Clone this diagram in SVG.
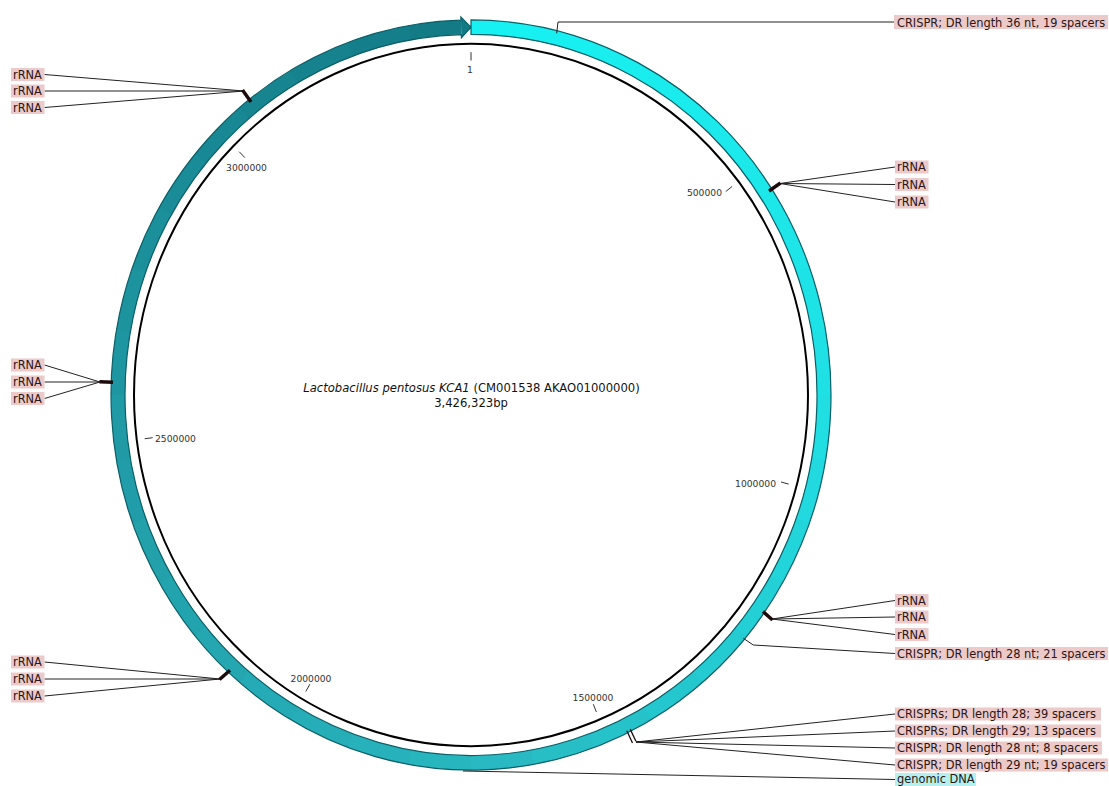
<svg xmlns="http://www.w3.org/2000/svg" width="1109" height="786" viewBox="0 0 1109 786">
<style>
.lbl rect{fill:#EDCACA}
.lbl text{font-family:"DejaVu Sans",sans-serif;font-size:11.4px;fill:#2a1616}
.gd rect{fill:#B4F0F0}
.tick{stroke:#333;stroke-width:1}
.tl{font-family:"DejaVu Sans",sans-serif;font-size:9.2px;fill:#333}
#connectors line,#connectors polyline{stroke:#222;stroke-width:1;fill:none}
.mark{stroke:#1d0b0b;stroke-width:3.5;stroke-linecap:butt}
.cmark{stroke:#1d0b0b;stroke-width:1.3}
.ctr{font-family:"DejaVu Sans",sans-serif;font-size:11.6px;fill:#111;text-anchor:middle}
</style>
<defs>
<path id="seg" d="M0,-360 A360,360 0 0 1 65.605,-353.972 L63.054,-340.206 A346,346 0 0 0 0,-346 Z"/>
</defs>
<rect width="1109" height="786" fill="#fff"/>
<g id="map" transform="translate(471,395) scale(1,1.042)">
<use href="#seg" transform="rotate(0)" fill="#17F1F1"/>
<use href="#seg" transform="rotate(10)" fill="#18EFF0"/>
<use href="#seg" transform="rotate(20)" fill="#19EDEE"/>
<use href="#seg" transform="rotate(30)" fill="#1AEBED"/>
<use href="#seg" transform="rotate(40)" fill="#1BE9EB"/>
<use href="#seg" transform="rotate(50)" fill="#1CE7E9"/>
<use href="#seg" transform="rotate(60)" fill="#1DE5E8"/>
<use href="#seg" transform="rotate(70)" fill="#1EE3E6"/>
<use href="#seg" transform="rotate(80)" fill="#1FE1E5"/>
<use href="#seg" transform="rotate(90)" fill="#20DEE2"/>
<use href="#seg" transform="rotate(100)" fill="#21D9DE"/>
<use href="#seg" transform="rotate(110)" fill="#22D5DA"/>
<use href="#seg" transform="rotate(120)" fill="#23D0D6"/>
<use href="#seg" transform="rotate(130)" fill="#24CCD2"/>
<use href="#seg" transform="rotate(140)" fill="#25C7CE"/>
<use href="#seg" transform="rotate(150)" fill="#26C2CA"/>
<use href="#seg" transform="rotate(160)" fill="#27BEC6"/>
<use href="#seg" transform="rotate(170)" fill="#28B9C2"/>
<use href="#seg" transform="rotate(180)" fill="#27B5BE"/>
<use href="#seg" transform="rotate(190)" fill="#27B2BB"/>
<use href="#seg" transform="rotate(200)" fill="#25AEB8"/>
<use href="#seg" transform="rotate(210)" fill="#25ABB5"/>
<use href="#seg" transform="rotate(220)" fill="#24A7B1"/>
<use href="#seg" transform="rotate(230)" fill="#22A4AE"/>
<use href="#seg" transform="rotate(240)" fill="#22A1AB"/>
<use href="#seg" transform="rotate(250)" fill="#209DA8"/>
<use href="#seg" transform="rotate(260)" fill="#209AA5"/>
<use href="#seg" transform="rotate(270)" fill="#1E96A1"/>
<use href="#seg" transform="rotate(280)" fill="#1D939E"/>
<use href="#seg" transform="rotate(290)" fill="#1B8F9A"/>
<use href="#seg" transform="rotate(300)" fill="#1A8C97"/>
<use href="#seg" transform="rotate(310)" fill="#188994"/>
<use href="#seg" transform="rotate(320)" fill="#178590"/>
<use href="#seg" transform="rotate(330)" fill="#15828D"/>
<use href="#seg" transform="rotate(340)" fill="#147E8A"/>
<path d="M0,-360 A360,360 0 0 1 52.590,-356.138 L50.545,-342.288 A346,346 0 0 0 0,-346 Z" transform="rotate(350)" fill="#137B86"/>
<path d="M-10.136,-362.858 L0,-353 L-9.577,-342.866 Z" fill="#127A85"/>
<path d="M0,-360 A360,360 0 1 1 -10.052,-359.860 L-10.136,-362.858 L0,-353 L-9.577,-342.866 L-9.661,-345.865 A346,346 0 1 0 0,-346 Z" fill="none" stroke="#0B5F67" stroke-width="1.2" vector-effect="non-scaling-stroke"/>
<circle r="337" fill="none" stroke="#000" stroke-width="2" vector-effect="non-scaling-stroke"/>
<line class="tick" y1="-321" y2="-329" vector-effect="non-scaling-stroke"/>
<line class="tick" y1="-321" y2="-329" transform="rotate(52.53)" vector-effect="non-scaling-stroke"/>
<line class="tick" y1="-321" y2="-329" transform="rotate(105.07)" vector-effect="non-scaling-stroke"/>
<line class="tick" y1="-321" y2="-329" transform="rotate(157.6)" vector-effect="non-scaling-stroke"/>
<line class="tick" y1="-321" y2="-329" transform="rotate(210.14)" vector-effect="non-scaling-stroke"/>
<line class="tick" y1="-321" y2="-329" transform="rotate(262.67)" vector-effect="non-scaling-stroke"/>
<line class="tick" y1="-321" y2="-329" transform="rotate(315.21)" vector-effect="non-scaling-stroke"/>
</g>
<g id="tick-labels">
<text class="tl" x="470" y="73" text-anchor="middle">1</text>
<text class="tl" x="722" y="195.5" text-anchor="end">500000</text>
<text class="tl" x="776" y="487" text-anchor="end">1000000</text>
<text class="tl" x="593" y="701" text-anchor="middle">1500000</text>
<text class="tl" x="311" y="681.5" text-anchor="middle">2000000</text>
<text class="tl" x="155" y="441.5">2500000</text>
<text class="tl" x="246.5" y="170.5" text-anchor="middle">3000000</text>
</g>
<g id="title">
<text class="ctr" x="471.5" y="392"><tspan font-style="italic">Lactobacillus pentosus KCA1</tspan> (CM001538 AKAO01000000)</text>
<text class="ctr" x="471" y="407">3,426,323bp</text>
</g>
<g id="connectors">
<polyline points="894,22 558,22 556.7,33.3"/>
<line x1="44.5" y1="74.5" x2="244" y2="91"/>
<line x1="44.5" y1="91" x2="244" y2="91"/>
<line x1="44.5" y1="107.5" x2="244" y2="91"/>
<line x1="895" y1="167" x2="780" y2="183.5"/>
<line x1="895" y1="184.5" x2="780" y2="183.5"/>
<line x1="895" y1="202" x2="780" y2="183.5"/>
<line x1="44.5" y1="365" x2="100" y2="382"/>
<line x1="44.5" y1="382" x2="100" y2="382"/>
<line x1="44.5" y1="398.5" x2="100" y2="382"/>
<line x1="895" y1="600.5" x2="772" y2="619"/>
<line x1="895" y1="617" x2="772" y2="619"/>
<line x1="895" y1="634.5" x2="772" y2="619"/>
<polyline points="895,653.5 753.3,645 743.3,638.3"/>
<line x1="44.5" y1="662" x2="220" y2="679"/>
<line x1="44.5" y1="679" x2="220" y2="679"/>
<line x1="44.5" y1="696" x2="220" y2="679"/>
<line x1="895" y1="714" x2="636" y2="742"/>
<line x1="895" y1="731" x2="636" y2="742"/>
<line x1="895" y1="748" x2="636" y2="742"/>
<line x1="895" y1="765" x2="636" y2="742"/>
<line x1="463" y1="771" x2="895" y2="779.5"/>
</g>
<g id="crispr-36" class="lbl"><rect x="894" y="15" width="214" height="14"/><text x="897" y="26.5">CRISPR; DR length 36 nt, 19 spacers</text></g>
<g id="rrna-tl" class="lbl">
<line class="mark" x1="242.5" y1="90" x2="251" y2="102"/>
<rect x="11" y="68" width="33.5" height="13"/><text x="13" y="78.5">rRNA</text>
<rect x="11" y="84.5" width="33.5" height="13"/><text x="13" y="95">rRNA</text>
<rect x="11" y="101" width="33.5" height="13"/><text x="13" y="111.5">rRNA</text>
</g>
<g id="rrna-tr" class="lbl">
<line class="mark" x1="769" y1="191" x2="780.5" y2="183"/>
<rect x="895" y="160.5" width="33.5" height="13"/><text x="897" y="171">rRNA</text>
<rect x="895" y="178" width="33.5" height="13"/><text x="897" y="188.5">rRNA</text>
<rect x="895" y="195.5" width="33.5" height="13"/><text x="897" y="206">rRNA</text>
</g>
<g id="rrna-ml" class="lbl">
<line class="mark" x1="99.5" y1="381.8" x2="113" y2="382.3"/>
<rect x="11" y="358.5" width="33.5" height="13"/><text x="13" y="369">rRNA</text>
<rect x="11" y="375.5" width="33.5" height="13"/><text x="13" y="386">rRNA</text>
<rect x="11" y="392" width="33.5" height="13"/><text x="13" y="402.5">rRNA</text>
</g>
<g id="rrna-br" class="lbl">
<line class="mark" x1="763" y1="611.5" x2="772.5" y2="620"/>
<rect x="895" y="594" width="33.5" height="13"/><text x="897" y="604.5">rRNA</text>
<rect x="895" y="610.5" width="33.5" height="13"/><text x="897" y="621">rRNA</text>
<rect x="895" y="628" width="33.5" height="13"/><text x="897" y="638.5">rRNA</text>
</g>
<g id="crispr-28-21" class="lbl"><rect x="895" y="647" width="213" height="13"/><text x="897" y="657.5">CRISPR; DR length 28 nt; 21 spacers</text></g>
<g id="rrna-bl" class="lbl">
<line class="mark" x1="219.5" y1="679.5" x2="230" y2="670.2"/>
<rect x="11" y="655.5" width="33.5" height="13"/><text x="13" y="666">rRNA</text>
<rect x="11" y="672.5" width="33.5" height="13"/><text x="13" y="683">rRNA</text>
<rect x="11" y="689.5" width="33.5" height="13"/><text x="13" y="700">rRNA</text>
</g>
<g id="crisprs-br" class="lbl">
<line class="cmark" x1="630.2" y1="729.1" x2="635.9" y2="741.3"/>
<line class="cmark" x1="626.8" y1="730.8" x2="632.5" y2="743"/>
<rect x="895" y="707.5" width="206" height="13"/><text x="897" y="718">CRISPRs; DR length 28; 39 spacers</text>
<rect x="895" y="724.5" width="206" height="13"/><text x="897" y="735">CRISPRs; DR length 29; 13 spacers</text>
<rect x="895" y="741.5" width="207" height="13"/><text x="897" y="752">CRISPR; DR length 28 nt; 8 spacers</text>
<rect x="895" y="758.5" width="213" height="13"/><text x="897" y="769">CRISPR; DR length 29 nt; 19 spacers</text>
</g>
<g id="genomic-dna" class="lbl gd"><rect x="895" y="773" width="81" height="13"/><text x="897" y="782.5">genomic DNA</text></g>
</svg>
